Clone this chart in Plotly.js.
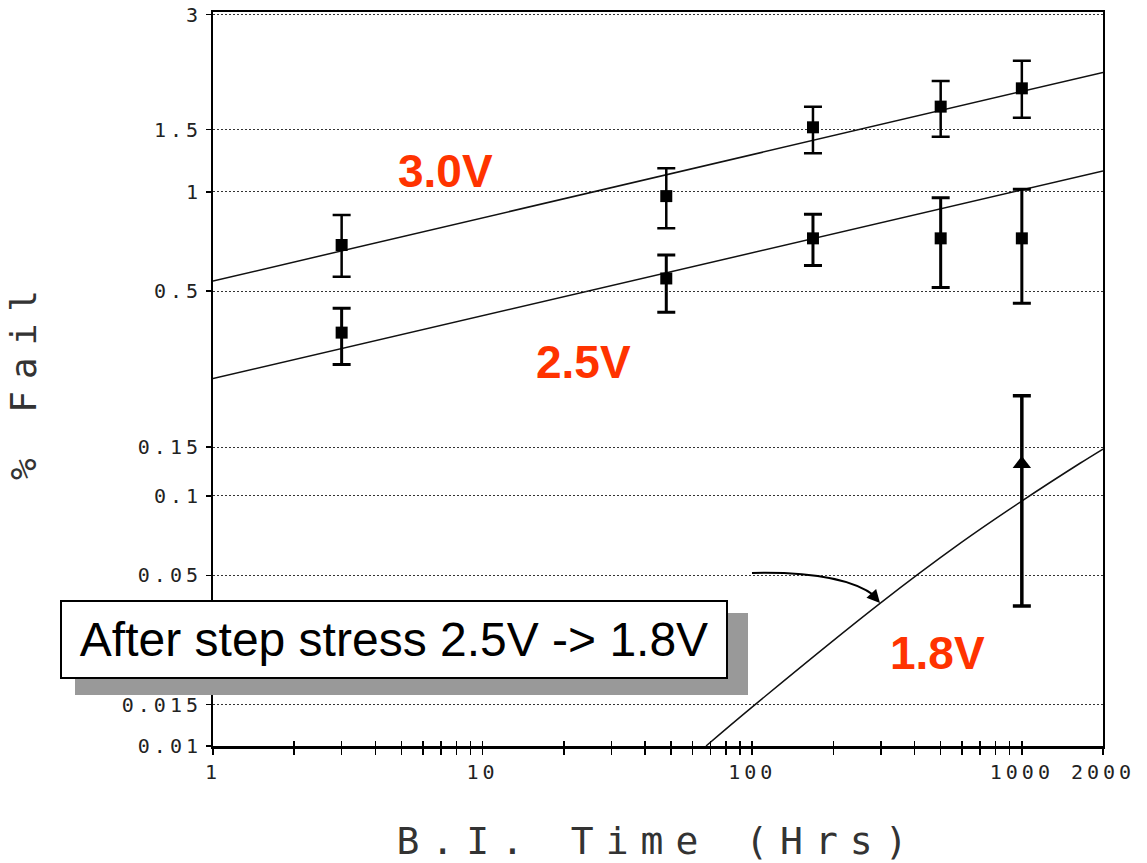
<!DOCTYPE html>
<html>
<head>
<meta charset="utf-8">
<script src="https://cdn.plot.ly/plotly-3.0.1.min.js"></script>
<style>
html, body { margin: 0; padding: 0; background: #ffffff; }
#chart { width: 1147px; height: 863px; }
.xtick text, .ytick text { letter-spacing: 4px; }
.xtitle { letter-spacing: 12px; }
.ytitle { letter-spacing: 12px; }
</style>
</head>
<body>
<div id="chart"></div>
<script>
// ---------------- data (percent fail vs burn-in hours) ----------------
const hours = [3, 48, 168, 500, 1000];

const fail30   = [0.695, 0.972, 1.523, 1.734, 1.941];
const fail30Hi = [0.855, 1.169, 1.734, 2.030, 2.294];
const fail30Lo = [0.555, 0.781, 1.289, 1.435, 1.618];

const fail25   = [0.368, 0.548, 0.728, 0.728, 0.728];
const fail25Hi = [0.441, 0.648, 0.860, 0.961, 1.017];
const fail25Lo = [0.289, 0.428, 0.601, 0.513, 0.458];

const hours18   = [1000];
const fail18    = [0.1306];
const fail18Hi  = [0.2265];
const fail18Lo  = [0.0380];

const fitHours = [1, 2000];
const fit30    = [0.538, 2.138];
const fit25    = [0.259, 1.149];

const fit18Hours = [67.4, 100.9, 297.9, 589.9, 1002, 1644, 2000];
const fit18      = [0.0100, 0.0148, 0.0389, 0.0664, 0.0958, 0.1313, 0.1476];

const yTickVals = [3, 1.5, 1, 0.5, 0.15, 0.1, 0.05, 0.015, 0.01];
const yTickText = ['3', '1.5', '1', '0.5', '0.15', '0.1', '0.05', '0.015', '0.01'];

const xTickVals = [1,2,3,4,5,6,7,8,9,10,20,30,40,50,60,70,80,90,100,200,300,400,500,600,700,800,900,1000,2000];
const xTickText = ['1','','','','','','','','','10','','','','','','','','','100','','','','','','','','','1000','2000'];

const xRangeHours = [1, 2000];
const yRangePct   = [0.01, 3.045];

const labels = ['3.0V', '2.5V', '1.8V'];
const noteText = 'After step stress 2.5V -> 1.8V';

// ---------------- normal probability (probit) scale ----------------
function probit(p) {
  const a = [-3.969683028665376e+01, 2.209460984245205e+02, -2.759285104469687e+02, 1.383577518672690e+02, -3.066479806614716e+01, 2.506628277459239e+00];
  const b = [-5.447609879822406e+01, 1.615858368580409e+02, -1.556989798598866e+02, 6.680131188771972e+01, -1.328068155288572e+01];
  const c = [-7.784894002430293e-03, -3.223964580411365e-01, -2.400758277161838e+00, -2.549732539343734e+00, 4.374664141464968e+00, 2.938163982698783e+00];
  const d = [7.784695709041462e-03, 3.224671290700398e-01, 2.445134137142996e+00, 3.754408661907416e+00];
  const plow = 0.02425, phigh = 1 - plow;
  let q, r;
  if (p < plow) {
    q = Math.sqrt(-2 * Math.log(p));
    return (((((c[0]*q + c[1])*q + c[2])*q + c[3])*q + c[4])*q + c[5]) /
           ((((d[0]*q + d[1])*q + d[2])*q + d[3])*q + 1);
  } else if (p <= phigh) {
    q = p - 0.5; r = q * q;
    return (((((a[0]*r + a[1])*r + a[2])*r + a[3])*r + a[4])*r + a[5]) * q /
           (((((b[0]*r + b[1])*r + b[2])*r + b[3])*r + b[4])*r + 1);
  } else {
    q = Math.sqrt(-2 * Math.log(1 - p));
    return -(((((c[0]*q + c[1])*q + c[2])*q + c[3])*q + c[4])*q + c[5]) /
            ((((d[0]*q + d[1])*q + d[2])*q + d[3])*q + 1);
  }
}
const z = pct => probit(pct / 100);
const zs = arr => arr.map(z);

function pointTrace(xs, ys, hi, lo, symbol, size, thick) {
  const zc = zs(ys);
  return {
    type: 'scatter', mode: 'markers', x: xs, y: zc,
    marker: { symbol: symbol, size: size, color: '#000000' },
    error_y: {
      type: 'data', symmetric: false,
      array: zs(hi).map((v, i) => v - zc[i]),
      arrayminus: zc.map((v, i) => v - z(lo[i])),
      color: '#000000', thickness: thick, width: 9
    },
    showlegend: false, hoverinfo: 'x+y', cliponaxis: false
  };
}
function lineTrace(xs, ys, shape) {
  return {
    type: 'scatter', mode: 'lines', x: xs, y: zs(ys),
    line: { color: '#111111', width: 1.5, shape: shape || 'linear', smoothing: 1 },
    showlegend: false, hoverinfo: 'skip'
  };
}

const yBottom = z(yRangePct[0]);
const data = [
  lineTrace(fitHours, fit30),
  lineTrace(fitHours, fit25),
  lineTrace(fit18Hours, fit18, 'spline'),
  pointTrace(hours, fail30, fail30Hi, fail30Lo, 'square', 12, 2.5),
  pointTrace(hours, fail25, fail25Hi, fail25Lo, 'square', 12, 3),
  pointTrace(hours18, fail18, fail18Hi, fail18Lo, 'triangle-up', 16, 3.5),
  { type: 'scatter', mode: 'lines', x: xRangeHours, y: [yBottom, yBottom], xaxis: 'x2',
    line: { color: 'rgba(0,0,0,0)', width: 0 }, showlegend: false, hoverinfo: 'skip' }
];

// paper-coordinate helpers for decorations (plot area 213..1103 x 12..746)
const PL = 213, PR = 1103, PT = 12, PB = 746;
const px = v => (v - PL) / (PR - PL);
const py = v => (PB - v) / (PB - PT);

const monoTick = { family: 'DejaVu Sans Mono, monospace', size: 20, color: '#222222' };
const redFont = { family: 'Liberation Sans, Arial, sans-serif', size: 46, color: '#ff3300', weight: 'bold' };

const layout = {
  width: 1147, height: 863,
  margin: { l: PL, r: 1147 - PR, t: PT, b: 863 - PB, pad: 0 },
  paper_bgcolor: '#ffffff', plot_bgcolor: '#ffffff',
  showlegend: false,
  xaxis: {
    type: 'log', range: [Math.log10(xRangeHours[0]), Math.log10(xRangeHours[1])],
    tickmode: 'array', tickvals: xTickVals, ticktext: xTickText, tickangle: 0,
    ticks: 'outside', ticklen: 6, tickwidth: 1.5, tickcolor: '#000000',
    showline: true, linewidth: 2.5, linecolor: '#000000', mirror: true,
    showgrid: false, zeroline: false,
    tickfont: monoTick,
    title: { text: 'B.I. Time (Hrs)', standoff: 62,
             font: { family: 'DejaVu Sans Mono, monospace', size: 38, color: '#333333' } }
  },
  xaxis2: {
    type: 'log', range: [Math.log10(xRangeHours[0]), Math.log10(xRangeHours[1])],
    overlaying: 'x', anchor: 'y', side: 'bottom',
    tickmode: 'array', tickvals: xTickVals, showticklabels: false,
    ticks: 'inside', ticklen: 5, tickwidth: 1.5, tickcolor: '#000000',
    showline: false, showgrid: false, zeroline: false
  },
  yaxis: {
    type: 'linear', range: [yBottom - 1e-4, z(yRangePct[1])],
    tickmode: 'array', tickvals: zs(yTickVals), ticktext: yTickText,
    ticks: 'outside', ticklen: 5, tickwidth: 1.5, tickcolor: '#000000',
    showline: true, linewidth: 2, linecolor: '#000000', mirror: true,
    showgrid: true, gridcolor: '#333333', gridwidth: 1, griddash: '2px,2px',
    zeroline: false,
    tickfont: monoTick,
    title: { text: '% Fail', standoff: 74,
             font: { family: 'DejaVu Sans Mono, monospace', size: 36, color: '#333333' } }
  },
  shapes: [
    // drop shadow of the note box
    { type: 'rect', xref: 'paper', yref: 'paper', layer: 'above',
      x0: px(75), x1: px(748), y0: py(695), y1: py(613),
      fillcolor: '#999999', line: { width: 0 } },
    // curved pointer toward the 1.8V line
    { type: 'path', xref: 'paper', yref: 'paper', layer: 'above',
      path: 'M' + px(752) + ',' + py(573) + ' Q' + px(842) + ',' + py(571) + ' ' + px(875) + ',' + py(596),
      line: { color: '#000000', width: 2 } }
  ],
  annotations: [
    { xref: 'paper', yref: 'paper', x: px(445), y: py(171), text: labels[0], showarrow: false,
      font: redFont, xanchor: 'center', yanchor: 'middle' },
    { xref: 'paper', yref: 'paper', x: px(583), y: py(362), text: labels[1], showarrow: false,
      font: redFont, xanchor: 'center', yanchor: 'middle' },
    { xref: 'paper', yref: 'paper', x: px(937), y: py(653), text: labels[2], showarrow: false,
      font: redFont, xanchor: 'center', yanchor: 'middle' },
    { xref: 'paper', yref: 'paper', x: px(880), y: py(603), text: '', showarrow: true,
      ax: -9, ay: -10, arrowhead: 2, arrowsize: 1.3, arrowwidth: 2, arrowcolor: '#000000' },
    { xref: 'paper', yref: 'paper', x: px(394), y: py(639.5), text: noteText, showarrow: false,
      xanchor: 'center', yanchor: 'middle', width: 660, height: 71, align: 'center', valign: 'middle',
      bgcolor: '#ffffff', bordercolor: '#000000', borderwidth: 2, borderpad: 2,
      font: { family: 'Liberation Sans, Arial, sans-serif', size: 48, color: '#000000' } }
  ]
};

Plotly.newPlot('chart', data, layout, { displayModeBar: false, staticPlot: true });
</script>
</body>
</html>
